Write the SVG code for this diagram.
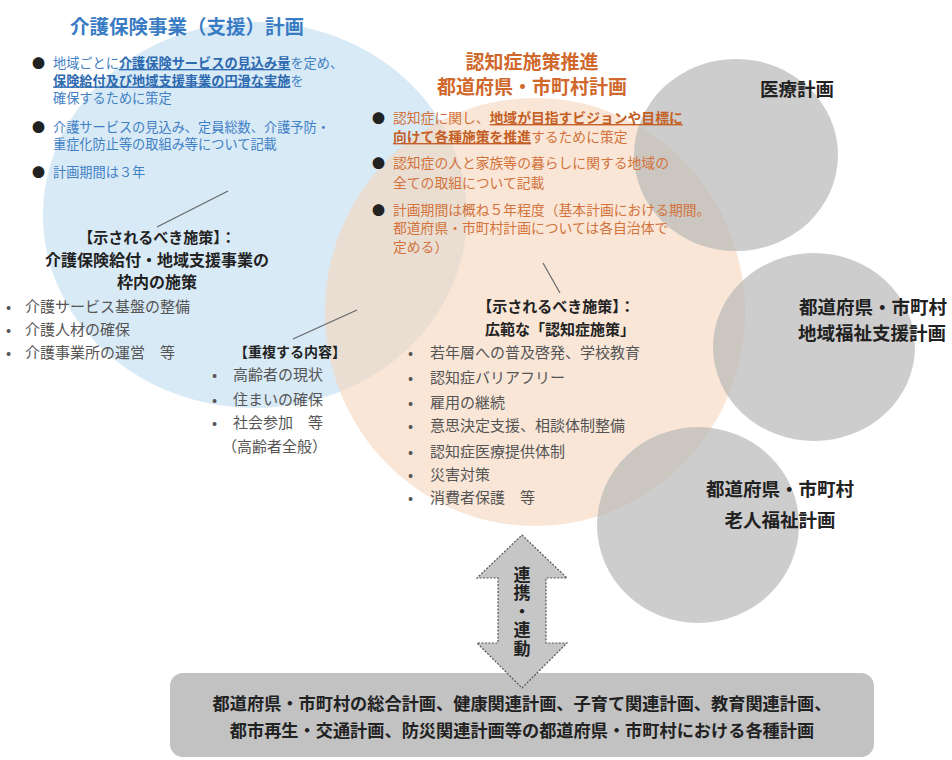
<svg xmlns="http://www.w3.org/2000/svg" width="952" height="760" viewBox="0 0 952 760">
<style>
text{font-family:"Noto Sans CJK JP","Noto Sans",sans-serif;}
.bt{fill:#3f80c4;font-size:13.2px;}
.btu{fill:#2c69b0;font-weight:bold;text-decoration:underline;}
.ot{fill:#d2733c;font-size:13.8px;}
.otu{fill:#c45f26;font-weight:bold;text-decoration:underline;}
.dot{fill:#222;font-size:13px;}
.hd{fill:#222;font-weight:bold;}
.gb{fill:#555;font-size:15px;}
.lbl{fill:#222;font-weight:bold;font-size:18.5px;}
.ld{stroke:#666;stroke-width:1.2;fill:none;}
.circ{fill:#b8b8b8;fill-opacity:0.7;}
</style>
<g id="blue-plan">
<ellipse cx="255" cy="215" rx="212" ry="193" fill="#d8eaf6"/>
</g>
<g id="dementia-plan">
<ellipse cx="535" cy="312" rx="210" ry="214" fill="#f7d5bd" fill-opacity="0.6"/>
</g>
<g id="medical-plan">
<ellipse class="circ" cx="736" cy="155" rx="102" ry="96"/>
<text class="lbl" x="797" y="96" text-anchor="middle">医療計画</text>
</g>
<g id="welfare-support-plan">
<ellipse class="circ" cx="814" cy="347" rx="101" ry="94"/>
<text class="lbl" x="873" y="314" text-anchor="middle">都道府県・市町村<tspan x="872" dy="26">地域福祉支援計画</tspan></text>
</g>
<g id="elderly-welfare-plan">
<ellipse class="circ" cx="698" cy="525" rx="101" ry="98"/>
<text class="lbl" x="780" y="496" text-anchor="middle">都道府県・市町村<tspan x="780" dy="31">老人福祉計画</tspan></text>
</g>
<g id="blue-text">
<text x="187" y="34" text-anchor="middle" style="fill:#3a7cc4;font-weight:bold;font-size:19.5px">介護保険事業（支援）計画</text>
<text class="dot" x="32" y="68">●</text>
<text class="bt" x="53" y="68">地域ごとに<tspan class="btu">介護保険サービスの見込み量</tspan>を定め、<tspan x="53" dy="17.5" class="btu">保険給付及び地域支援事業の円滑な実施</tspan><tspan>を</tspan><tspan x="53" dy="17.5">確保するために策定</tspan></text>
<text class="dot" x="32" y="132">●</text>
<text class="bt" x="53" y="132">介護サービスの見込み、定員総数、介護予防・<tspan x="53" dy="17">重症化防止等の取組み等について記載</tspan></text>
<text class="dot" x="32" y="177">●</text>
<text class="bt" x="53" y="177">計画期間は３年</text>
<text class="hd" x="157" y="243" text-anchor="middle" font-size="15">【示されるべき施策】：</text>
<text class="hd" x="157" y="266" text-anchor="middle" font-size="16">介護保険給付・地域支援事業の<tspan x="157" dy="22">枠内の施策</tspan></text>
<text class="gb" x="6" y="312">•</text>
<text class="gb" x="25" y="312">介護サービス基盤の整備</text>
<text class="gb" x="6" y="335">•</text>
<text class="gb" x="25" y="335">介護人材の確保</text>
<text class="gb" x="6" y="358">•</text>
<text class="gb" x="25" y="358">介護事業所の運営　等</text>
</g>
<g id="overlap-text">
<text class="hd" x="290" y="357" text-anchor="middle" font-size="14">【重複する内容】</text>
<text class="gb" x="212" y="380">•</text>
<text class="gb" x="233" y="380">高齢者の現状</text>
<text class="gb" x="212" y="405">•</text>
<text class="gb" x="233" y="405">住まいの確保</text>
<text class="gb" x="212" y="428">•</text>
<text class="gb" x="233" y="428">社会参加　等</text>
<text class="gb" x="222" y="452">（高齢者全般）</text>
</g>
<g id="dementia-text">
<text x="532" y="69" text-anchor="middle" style="fill:#d0682c;font-weight:bold;font-size:19px">認知症施策推進<tspan x="532" dy="25">都道府県・市町村計画</tspan></text>
<text class="dot" x="372" y="123">●</text>
<text class="ot" x="393" y="123">認知症に関し、<tspan class="otu">地域が目指すビジョンや目標に</tspan><tspan x="393" dy="19" class="otu">向けて各種施策を推進</tspan><tspan>するために策定</tspan></text>
<text class="dot" x="372" y="168">●</text>
<text class="ot" x="393" y="168">認知症の人と家族等の暮らしに関する地域の<tspan x="393" dy="20">全ての取組について記載</tspan></text>
<text class="dot" x="372" y="215">●</text>
<text class="ot" x="393" y="215">計画期間は概ね５年程度（基本計画における期間。<tspan x="393" dy="18">都道府県・市町村計画については各自治体で</tspan><tspan x="393" dy="19">定める）</tspan></text>
<text class="hd" x="556" y="312" text-anchor="middle" font-size="15">【示されるべき施策】：<tspan x="560" dy="23">広範な「認知症施策」</tspan></text>
<text class="gb" x="408" y="358">•</text>
<text class="gb" x="430" y="358">若年層への普及啓発、学校教育</text>
<text class="gb" x="408" y="383">•</text>
<text class="gb" x="430" y="383">認知症バリアフリー</text>
<text class="gb" x="408" y="408">•</text>
<text class="gb" x="430" y="408">雇用の継続</text>
<text class="gb" x="408" y="431">•</text>
<text class="gb" x="430" y="431">意思決定支援、相談体制整備</text>
<text class="gb" x="408" y="457">•</text>
<text class="gb" x="430" y="457">認知症医療提供体制</text>
<text class="gb" x="408" y="480">•</text>
<text class="gb" x="430" y="480">災害対策</text>
<text class="gb" x="408" y="503">•</text>
<text class="gb" x="430" y="503">消費者保護　等</text>
</g>
<g id="other-plans">
<rect x="170" y="673" width="704" height="84" rx="13" fill="#c2c2c2"/>
<text class="hd" x="522" y="710" text-anchor="middle" font-size="17.2">都道府県・市町村の総合計画、健康関連計画、子育て関連計画、教育関連計画、<tspan x="522" dy="27">都市再生・交通計画、防災関連計画等の都道府県・市町村における各種計画</tspan></text>
</g>
<g id="connectors">
<line class="ld" x1="228" y1="191" x2="157" y2="227"/>
<line class="ld" x1="357" y1="310" x2="293" y2="339"/>
<line class="ld" x1="543" y1="263" x2="560" y2="293"/>
<path d="M522,535 L567,578 L546,578 L546,643 L567,643 L522,688 L477,643 L498,643 L498,578 L477,578 Z" fill="#c6c6c6" stroke="#555" stroke-width="1.2" stroke-dasharray="2 1.5"/>
<text class="hd" x="522" y="612" text-anchor="middle" font-size="17" letter-spacing="1.5" style="writing-mode:vertical-rl">連携・連動</text>
</g>
</svg>
